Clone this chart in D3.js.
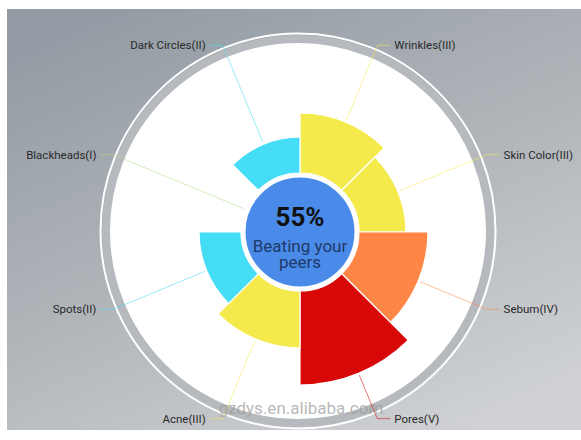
<!DOCTYPE html>
<html>
<head>
<meta charset="utf-8">
<script src="https://cdn.jsdelivr.net/npm/d3@7"></script>
<style>
html, body { margin: 0; padding: 0; background: #fff; }
#chart { position: relative; width: 581px; height: 440px; }
svg { display: block; font-family: Roboto, "Noto Sans", sans-serif; }
.hub-text {
    position: absolute;
    font-family: Roboto, "Noto Sans", sans-serif;
    font-size: 17px;
    line-height: 16px;
    color: #1d3a68;
    text-align: center;
}
</style>
</head>
<body>
<div id="chart"></div>
<script>
// skin items, clockwise from 12 o'clock
var categories = ["Wrinkles(III)", "Skin Color(III)", "Sebum(IV)", "Pores(V)", "Acne(III)", "Spots(II)", "Blackheads(I)", "Dark Circles(II)"];
var levels = [3, 3, 4, 5, 3, 2, 1, 2];
var scores = [60, 47, 69, 94, 57, 42, 0, 36];
// colour per level I..V
var levelColors = ["#aee07f", "#45dcf6", "#f5ea4c", "#ff8646", "#d90808"];
var peerPercent = 55;
var centerText = "Beating your peers";

var width = 581, height = 440;
var cx = 300, cy = 232;
var hubR = 56, innerR = 59;

var svg = d3.select("#chart").append("svg")
    .attr("width", width)
    .attr("height", height);

var defs = svg.append("defs");
var grad = defs.append("linearGradient")
    .attr("id", "bg")
    .attr("x1", "0.2").attr("y1", "0")
    .attr("x2", "0.8").attr("y2", "1");
grad.append("stop").attr("offset", "0").attr("stop-color", "#939ca4");
grad.append("stop").attr("offset", "0.5").attr("stop-color", "#b1b5ba");
grad.append("stop").attr("offset", "1").attr("stop-color", "#cfd1d4");

svg.append("rect")
    .attr("x", 7).attr("y", 9)
    .attr("width", width - 7).attr("height", 421)
    .attr("fill", "url(#bg)");

// outer plate
var plate = svg.append("g").attr("transform", "translate(298,231)");
plate.append("circle").attr("r", 197.5)
    .attr("fill", "none").attr("stroke", "#fff").attr("stroke-width", 2);
plate.append("circle").attr("r", 192)
    .attr("fill", "#fff").attr("stroke", "#b6b9bd").attr("stroke-width", 8);

var g = svg.append("g").attr("transform", "translate(" + cx + "," + cy + ")");

var data = categories.map(function (c, i) {
    return {name: c, level: levels[i], score: scores[i]};
});

var r = d3.scaleLinear().domain([0, 100]).range([innerR, innerR + 100]);

var pie = d3.pie().sort(null).value(function () { return 1; });
var arcs = pie(data);

var arc = d3.arc()
    .innerRadius(innerR)
    .outerRadius(function (d) { return r(d.data.score); });

g.selectAll("path.sector")
    .data(arcs)
    .enter().append("path")
    .attr("class", "sector")
    .attr("d", arc)
    .attr("fill", function (d) { return levelColors[d.data.level - 1]; })
    .attr("stroke", "#fff")
    .attr("stroke-width", 1.2);

// leader lines and labels
var elbowR = 202, seg = 13, gap = 4;

function midAngle(d) { return (d.startAngle + d.endAngle) / 2; }

g.selectAll("polyline.leader")
    .data(arcs)
    .enter().append("polyline")
    .attr("class", "leader")
    .attr("fill", "none")
    .attr("stroke", function (d) { return levelColors[d.data.level - 1]; })
    .attr("stroke-opacity", 0.55)
    .attr("stroke-width", 1)
    .attr("points", function (d) {
        var a = midAngle(d);
        var r0 = r(d.data.score) + 2;
        var side = Math.sin(a) > 0 ? 1 : -1;
        var p0 = [Math.sin(a) * r0, -Math.cos(a) * r0];
        var p1 = [Math.sin(a) * elbowR, -Math.cos(a) * elbowR];
        var p2 = [p1[0] + side * seg, p1[1]];
        return [p0, p1, p2].join(" ");
    });

g.selectAll("text.label")
    .data(arcs)
    .enter().append("text")
    .attr("class", "label")
    .attr("x", function (d) {
        var a = midAngle(d);
        var side = Math.sin(a) > 0 ? 1 : -1;
        return Math.sin(a) * elbowR + side * (seg + gap);
    })
    .attr("y", function (d) { return -Math.cos(midAngle(d)) * elbowR; })
    .attr("dy", "0.35em")
    .attr("text-anchor", function (d) { return Math.sin(midAngle(d)) > 0 ? "start" : "end"; })
    .attr("font-size", 11.5)
    .attr("fill", "#2a2a2a")
    .text(function (d) { return d.data.name; });

// hub
g.append("circle").attr("r", hubR)
    .attr("fill", "#4a8ae8")
    .attr("stroke", "#fff").attr("stroke-width", 3);

g.append("text")
    .attr("y", -6)
    .attr("text-anchor", "middle")
    .attr("font-size", 26)
    .attr("font-weight", "bold")
    .attr("fill", "#111")
    .text(peerPercent + "%");

// sub caption wraps onto two lines inside the hub
d3.select("#chart").append("div")
    .attr("class", "hub-text")
    .style("left", (cx - 52) + "px")
    .style("top", (cy + 6) + "px")
    .style("width", "104px")
    .text(centerText);

// watermark
svg.append("text")
    .attr("x", 301).attr("y", 414)
    .attr("text-anchor", "middle")
    .attr("font-size", 17)
    .attr("fill", "#999")
    .attr("fill-opacity", 0.7)
    .text("gzdys.en.alibaba.com");
</script>
</body>
</html>
